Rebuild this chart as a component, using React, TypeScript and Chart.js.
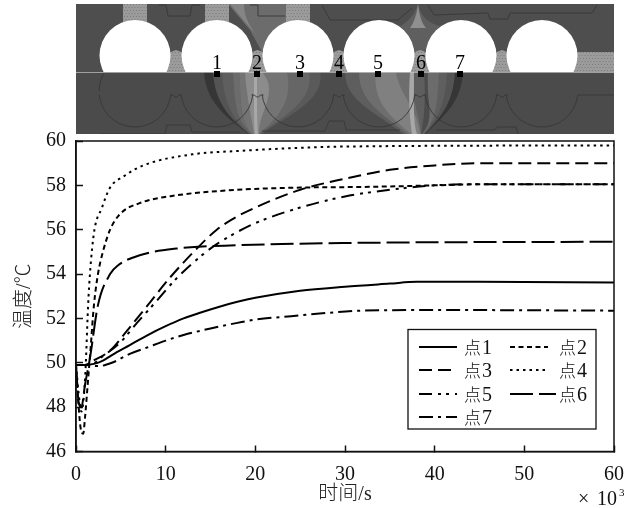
import React, { useEffect, useRef } from "react";
import { Chart, registerables } from "chart.js";

Chart.register(...registerables);

const xTicksMax = 60;
const t1 = [0, 1, 2, 3, 4, 6, 8, 10, 12, 14, 16, 18, 20, 25, 30, 35, 38, 45, 60];
const v1 = [49.9, 49.9, 49.95, 50.1, 50.35, 50.8, 51.25, 51.65, 52, 52.28, 52.53, 52.75, 52.93, 53.25, 53.43, 53.57, 53.65, 53.65, 53.62];
const t2 = [0, 0.3, 0.5, 0.8, 1, 1.3, 1.6, 2, 2.45, 3, 3.8, 4.9, 7.1, 11.2, 18, 25, 30, 35, 40, 45, 60];
const v2 = [49.9, 48, 47.1, 46.8, 47.5, 49, 50.5, 52.6, 54, 55, 56, 56.7, 57.2, 57.55, 57.8, 57.9, 57.92, 57.95, 58, 58.05, 58.05];
const t3 = [0, 1, 1.95, 3.8, 5.7, 8.3, 10.5, 13, 15.7, 18, 20, 25, 30, 35, 40, 45, 60];
const v3 = [49.9, 49.9, 50.1, 50.55, 51.45, 52.75, 53.85, 54.95, 56, 56.6, 57, 57.8, 58.3, 58.7, 58.9, 59, 59];
const t4 = [0, 0.3, 0.6, 1, 1.4, 1.95, 2.9, 3.8, 5.3, 7.5, 13, 18, 30, 60];
const v4 = [49.9, 48.6, 47.8, 49.2, 53, 55.7, 57, 57.9, 58.4, 58.9, 59.4, 59.55, 59.75, 59.8];
const t5 = [0, 1.5, 3, 4.9, 6.8, 8.8, 11.2, 14.2, 15.7, 18, 20, 25, 30, 35, 40, 45, 60];
const v5 = [49.9, 49.9, 50.3, 50.9, 51.8, 52.7, 53.8, 54.9, 55.35, 55.9, 56.3, 57, 57.5, 57.8, 58, 58.05, 58.05];
const t6 = [0, 0.3, 0.6, 1, 1.55, 2.45, 3.8, 4.7, 7.1, 11.2, 18, 30, 60];
const v6 = [49.9, 48.2, 48, 49, 50.2, 52.6, 54, 54.4, 54.85, 55.15, 55.3, 55.4, 55.46];
const t7 = [0, 1, 2.5, 4, 6, 8, 10, 12, 15, 18, 20, 24, 28, 32, 40, 60];
const v7 = [49.9, 49.9, 49.85, 50, 50.4, 50.7, 51, 51.25, 51.55, 51.8, 51.95, 52.1, 52.25, 52.35, 52.38, 52.35];
const seriesLabels = ["点1", "点2", "点3", "点4", "点5", "点6", "点7"];
const markerLabels = ["1", "2", "3", "4", "5", "6", "7"];

const SERIF = '"Liberation Serif", "Noto Sans CJK SC"';
const CJK = '"Noto Sans CJK SC"';
const dashes = [[], [5, 3.5], [13, 6], [2.5, 4], [13, 6, 3, 5, 3, 6], [23, 6], [14, 5, 3, 5]];

function pts(t: number[], v: number[]) {
  return t.map((x, i) => ({ x, y: v[i] }));
}

function speckle(ctx: CanvasRenderingContext2D, path: () => void) {
  ctx.save();
  ctx.beginPath();
  path();
  ctx.clip();
  ctx.fillStyle = "#9b9b9b";
  ctx.fillRect(76, 0, 540, 136);
  ctx.fillStyle = "#7c7c7c";
  for (let y = 4; y < 134; y += 3) {
    for (let x = 76 + (y % 2) * 1.5; x < 614; x += 3) ctx.fillRect(x, y, 1, 1);
  }
  ctx.restore();
}

function shape(
  ctx: CanvasRenderingContext2D,
  color: string,
  l: number[],
  r: number[]
) {
  // l and r: [top x, c1x, c1y, c2x, c2y, bottom x]
  ctx.fillStyle = color;
  ctx.beginPath();
  ctx.moveTo(l[0], 72);
  ctx.bezierCurveTo(l[1], l[2], l[3], l[4], l[5], 134);
  ctx.lineTo(r[5], 134);
  ctx.bezierCurveTo(r[3], r[4], r[1], r[2], r[0], 72);
  ctx.closePath();
  ctx.fill();
}

function drawPicture(ctx: CanvasRenderingContext2D) {
  ctx.save();
  ctx.beginPath();
  ctx.rect(76, 4, 538, 130);
  ctx.clip();
  ctx.filter = "blur(0.5px)";
  ctx.fillStyle = "#4e4e4e";
  ctx.fillRect(76, 4, 538, 130);

  // top contours
  ctx.fillStyle = "#6c6c6c";
  ctx.beginPath();
  ctx.moveTo(228, 4);
  ctx.lineTo(288, 4);
  ctx.lineTo(288, 24);
  ctx.lineTo(262, 52);
  ctx.lineTo(250, 30);
  ctx.closePath();
  ctx.fill();
  ctx.fillStyle = "#858585";
  ctx.beginPath();
  ctx.moveTo(230, 4);
  ctx.lineTo(244, 4);
  ctx.quadraticCurveTo(244, 24, 262, 40);
  ctx.lineTo(250, 28);
  ctx.closePath();
  ctx.fill();
  ctx.fillStyle = "#5f5f5f";
  ctx.beginPath();
  ctx.moveTo(418, 4);
  ctx.quadraticCurveTo(422, 22, 440, 26);
  ctx.lineTo(424, 52);
  ctx.lineTo(412, 52);
  ctx.lineTo(390, 30);
  ctx.quadraticCurveTo(412, 24, 418, 4);
  ctx.fill();
  ctx.fillStyle = "#8f8f8f";
  ctx.beginPath();
  ctx.moveTo(418, 4);
  ctx.quadraticCurveTo(420, 22, 426, 28);
  ctx.lineTo(410, 28);
  ctx.quadraticCurveTo(416, 20, 418, 4);
  ctx.fill();

  // outline pieces above
  ctx.strokeStyle = "#383838";
  ctx.lineWidth = 0.9;
  const poly = (p: number[][]) => {
    ctx.beginPath();
    p.forEach(([x, y], i) => (i ? ctx.lineTo(x, y) : ctx.moveTo(x, y)));
    ctx.stroke();
  };
  poly([[159, 5], [166, 5], [168, 16], [190, 16], [192, 5], [200, 5]]);
  poly([[250, 5], [258, 5], [258, 16], [285, 16]]);
  poly([[322, 5], [330, 20], [398, 20], [412, 8]]);
  poly([[428, 5], [434, 15], [488, 13], [490, 19], [508, 19], [510, 13], [592, 13], [597, 5]]);

  // speckled feeders
  const feeders = [[123, 24], [205, 24], [286, 24]];
  feeders.forEach(([x, w]) => speckle(ctx, () => ctx.rect(x, 4, w, 24)));
  [176, 257.5, 339, 420, 502].forEach((cx) =>
    speckle(ctx, () => {
      ctx.moveTo(cx - 20, 72);
      ctx.lineTo(cx - 8, 53);
      ctx.lineTo(cx, 50);
      ctx.lineTo(cx + 8, 53);
      ctx.lineTo(cx + 20, 72);
    })
  );
  speckle(ctx, () => ctx.rect(570, 52, 44, 20));
  speckle(ctx, () => ctx.rect(594, 129, 16, 5));

  // white circles, cut at the flat face
  ctx.fillStyle = "#ffffff";
  [135, 217, 298, 379, 461, 542].forEach((cx) => {
    ctx.save();
    ctx.beginPath();
    ctx.rect(cx - 40, 10, 80, 62);
    ctx.clip();
    ctx.beginPath();
    ctx.arc(cx, 55.5, 35.5, 0, Math.PI * 2);
    ctx.fill();
    ctx.restore();
  });

  // lower contours
  ctx.fillStyle = "#4b4b4b";
  ctx.fillRect(76, 72, 538, 62);
  const L = (x: number, b: number) => [x, x + 2, 106, b - 16, 120, b];
  const R = (x: number, b: number) => [x, x - 2, 106, b + 14, 118, b];
  shape(ctx, "#363636", L(204, 248), R(463, 426));
  shape(ctx, "#545454", L(213, 249), R(455, 425));
  shape(ctx, "#5f5f5f", L(222, 250), R(447, 424));
  shape(ctx, "#6c6c6c", L(233, 252), R(439, 423));
  shape(ctx, "#4c4c4c", L(244, 254), R(428, 422));
  const S = (x: number, b: number) => [x, x + 6, 102, b + 20, 118, b];
  const leftEdge = [240, 240, 100, 240, 120, 252];
  shape(ctx, "#5a5a5a", leftEdge, S(320, 262));
  shape(ctx, "#666666", leftEdge, S(309, 260));
  shape(ctx, "#747474", leftEdge, S(287, 258));
  shape(ctx, "#8c8c8c", [245, 247, 100, 252, 120, 254], [262, 280, 92, 258, 112, 259]);
  const rightEdge = [424, 426, 100, 424, 120, 421];
  const T = (x: number, b: number) => [x, x, 102, b - 26, 112, b];
  shape(ctx, "#5e5e5e", T(345, 403), rightEdge);
  shape(ctx, "#6e6e6e", T(359, 407), [412, 410, 96, 420, 116, 421]);
  shape(ctx, "#808080", T(375, 411), [396, 398, 92, 418, 110, 420]);
  shape(ctx, "#a8a8a8", [410, 408, 100, 410, 120, 412], [414, 414, 104, 413, 122, 417]);
  shape(ctx, "#a8a8a8", [254, 254, 110, 254, 124, 255], [257, 257, 110, 257, 126, 258]);

  // mould outlines over the lower half
  ctx.strokeStyle = "#383838";
  ctx.lineWidth = 0.9;
  [135, 217, 298, 379, 461, 542].forEach((cx) => {
    ctx.beginPath();
    ctx.arc(cx, 91, 36, 0.1, Math.PI - 0.1);
    ctx.stroke();
  });
  [176, 257.5, 339, 420, 502].forEach((cx) => {
    poly([[cx - 6, 95], [cx - 3, 95], [cx - 1, 97], [cx + 1, 97], [cx + 3, 95], [cx + 6, 95]]);
  });
  ctx.beginPath();
  ctx.arc(135, 91, 36, Math.PI, Math.PI + 0.55);
  ctx.stroke();
  poly([[578, 95], [614, 95]]);
  poly([[100, 134], [165, 134], [167, 125], [190, 125], [192, 132], [240, 132]]);
  poly([[262, 131], [325, 131], [329, 121], [344, 121], [346, 130], [400, 130]]);
  poly([[436, 130], [495, 130], [497, 127], [516, 127], [518, 134]]);
  ctx.restore();

  // face line, markers and their numbers: real text
  ctx.fillStyle = "#c8c8c8";
  ctx.fillRect(76, 72, 538, 0.7);
  const mx = [217, 257, 300, 339, 378, 421, 460];
  ctx.font = `20px ${SERIF}`;
  ctx.textAlign = "center";
  ctx.textBaseline = "alphabetic";
  mx.forEach((x, i) => {
    ctx.fillStyle = "#000";
    ctx.fillRect(x - 3, 71, 6, 6);
    ctx.fillText(markerLabels[i], x, 69);
  });
}

const picturePlugin = {
  id: "picture",
  beforeDraw(chart: Chart) {
    drawPicture(chart.ctx);
  },
};

const framePlugin = {
  id: "frame",
  afterDatasetsDraw(chart: Chart) {
    const { ctx, chartArea: a } = chart;
    ctx.save();
    ctx.strokeStyle = "#111";
    ctx.lineWidth = 1.5;
    ctx.strokeRect(a.left, a.top, a.right - a.left, a.bottom - a.top);
    ctx.restore();
  },
};

const legendPlugin = {
  id: "boxLegend",
  afterDraw(chart: Chart) {
    const ctx = chart.ctx;
    const rows = [347, 370, 394, 417];
    ctx.save();
    ctx.fillStyle = "#fff";
    ctx.fillRect(408, 329.5, 188, 99.5);
    ctx.strokeStyle = "#111";
    ctx.lineWidth = 1.3;
    ctx.strokeRect(408, 329.5, 188, 99.5);
    chart.data.datasets.forEach((d: any, i: number) => {
      const col = i % 2;
      const y = rows[Math.floor(i / 2)];
      const x0 = col ? 510 : 419;
      const len = i === 5 ? 46 : 38;
      ctx.strokeStyle = "#000";
      ctx.lineWidth = 2;
      ctx.setLineDash(d.borderDash || []);
      ctx.beginPath();
      ctx.moveTo(x0, y);
      ctx.lineTo(x0 + len, y);
      ctx.stroke();
      ctx.setLineDash([]);
      const tx = col ? 559 : 464;
      ctx.fillStyle = "#111";
      ctx.textAlign = "left";
      ctx.textBaseline = "alphabetic";
      ctx.font = `300 17px ${CJK}`;
      ctx.fillText(d.label[0], tx, y + 7);
      ctx.font = `20px ${SERIF}`;
      ctx.fillText(d.label.slice(1), tx + 18, y + 7);
    });
    ctx.restore();
  },
};

const powerPlugin = {
  id: "power",
  afterDraw(chart: Chart) {
    const ctx = chart.ctx;
    ctx.save();
    ctx.fillStyle = "#111";
    ctx.textAlign = "left";
    ctx.textBaseline = "alphabetic";
    ctx.font = `20px ${SERIF}`;
    ctx.fillText("×", 578, 505);
    ctx.fillText("10", 597, 505);
    ctx.font = `11px ${SERIF}`;
    ctx.fillText("3", 619, 496);
    ctx.restore();
  },
};

export default function App() {
  const ref = useRef<HTMLCanvasElement>(null);
  useEffect(() => {
    const data = [pts(t1, v1), pts(t2, v2), pts(t3, v3), pts(t4, v4), pts(t5, v5), pts(t6, v6), pts(t7, v7)];
    const chart = new Chart(ref.current as HTMLCanvasElement, {
      type: "line",
      data: {
        datasets: data.map((d, i) => ({
          label: seriesLabels[i],
          data: d,
          borderColor: "#000",
          borderWidth: 2,
          borderDash: dashes[i],
          pointRadius: 0,
          cubicInterpolationMode: "monotone" as const,
        })),
      },
      options: {
        animation: false,
        responsive: false,
        devicePixelRatio: 1,
        layout: { autoPadding: false, padding: { left: 0, top: 141, right: 24, bottom: 0 } },
        plugins: { legend: { display: false }, tooltip: { enabled: false } },
        scales: {
          x: {
            type: "linear",
            min: 0,
            max: xTicksMax,
            afterFit: (s: any) => {
              s.height = 56.5;
              s.paddingLeft = 0;
              s.paddingRight = 0;
            },
            border: { color: "#111", width: 1.5 },
            grid: { drawOnChartArea: false, tickLength: -6, tickColor: "#111", tickWidth: 1.5 },
            ticks: { stepSize: 10, color: "#111", padding: 17, maxRotation: 0, font: { size: 20, family: SERIF } },
            title: {
              display: true,
              text: "时间/s",
              color: "#222",
              padding: { top: 0, bottom: 1 },
              font: { size: 20, family: SERIF, weight: "300" },
            },
          },
          y: {
            min: 46,
            max: 60,
            afterFit: (s: any) => {
              s.width = 76;
            },
            border: { color: "#111", width: 1.5 },
            grid: { drawOnChartArea: false, tickLength: -7, tickColor: "#111", tickWidth: 1.5 },
            ticks: { stepSize: 2, color: "#111", padding: 17, font: { size: 20, family: SERIF } },
            title: {
              display: true,
              text: "温度/℃",
              color: "#222",
              padding: { top: 13, bottom: 0 },
              font: { size: 20, family: SERIF, weight: "300" },
            },
          },
        },
      },
      plugins: [picturePlugin, framePlugin, legendPlugin, powerPlugin],
    } as any);
    return () => chart.destroy();
  }, []);
  return (
    <canvas
      ref={ref}
      width={638}
      height={508}
      style={{ position: "absolute", left: 0, top: 0, width: 638, height: 508 }}
    />
  );
}
